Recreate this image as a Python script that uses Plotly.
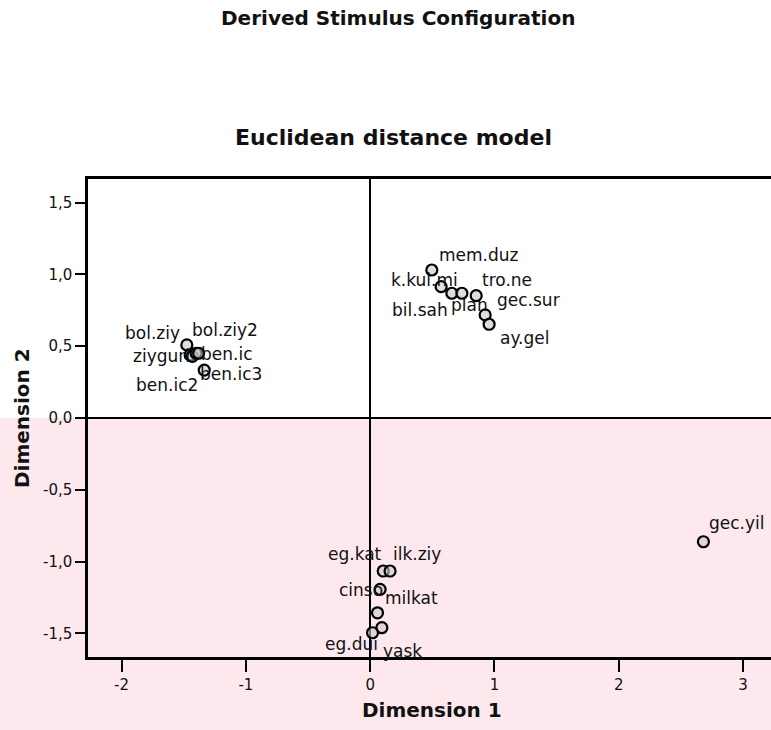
import plotly.graph_objects as go

# ---- data ----
stimulus = ["mem.duz", "k.kul.mi", "bil.sah", "plan", "tro.ne", "gec.sur", "ay.gel",
            "bol.ziy", "ziyguri", "ben.ic2", "bol.ziy2", "ben.ic", "ben.ic3",
            "eg.kat", "ilk.ziy", "cinso", "milkat", "yask", "eg.dui", "gec.yil"]
dim1 = [0.496, 0.571, 0.657, 0.738, 0.853, 0.925, 0.957,
        -1.475, -1.448, -1.43, -1.40, -1.38, -1.335,
        0.105, 0.16, 0.08, 0.059, 0.094, 0.019, 2.681]
dim2 = [1.031, 0.915, 0.869, 0.869, 0.852, 0.718, 0.653,
        0.509, 0.439, 0.43, 0.451, 0.451, 0.334,
        -1.066, -1.066, -1.194, -1.357, -1.461, -1.496, -0.862]

x_tickvals = [-2, -1, 0, 1, 2, 3]
x_ticktext = ["-2", "-1", "0", "1", "2", "3"]
y_tickvals = [1.5, 1.0, 0.5, 0.0, -0.5, -1.0, -1.5]
y_ticktext = ["1,5", "1,0", "0,5", "0,0", "-0,5", "-1,0", "-1,5"]

# label offsets in pixels (dx right, dy down) -- styling only
label_offsets = {
    "mem.duz": (47, -15), "k.kul.mi": (-17, -7), "bil.sah": (-32, 17), "plan": (8, 12),
    "tro.ne": (31, -16), "gec.sur": (43, -15), "ay.gel": (35, 14),
    "bol.ziy": (-34, -12), "ziyguri": (-29, 1), "ben.ic2": (-25, 29), "bol.ziy2": (29, -23),
    "ben.ic": (28, 1), "ben.ic3": (27, 4),
    "eg.kat": (-28, -17), "ilk.ziy": (27, -17), "cinso": (-19, 1), "milkat": (34, -15),
    "yask": (21, 23), "eg.dui": (-21, 11), "gec.yil": (34, -19),
}

FONT = "DejaVu Sans, Liberation Sans, Arial, sans-serif"
INK = "#111"

# figure is slightly wider than the window so the plot runs off the right edge
W, H = 790, 730
L, R, T, B = 88, 0, 179, 73
ph = H - T - B
pw = W - L - R
PX_PER_X = 124.3
x_lo = -2.27
x_hi = x_lo + pw / PX_PER_X

fig = go.Figure()
fig.add_trace(go.Scatter(
    x=dim1, y=dim2, mode="markers",
    marker=dict(symbol="circle", size=11, color="rgba(200,200,200,0.6)",
                line=dict(color="black", width=2.2)),
    hoverinfo="text", text=stimulus, showlegend=False,
))

annotations = []
for name, xv, yv in zip(stimulus, dim1, dim2):
    dx, dy = label_offsets[name]
    annotations.append(dict(
        x=xv, y=yv, xref="x", yref="y", text=name, showarrow=False,
        xanchor="center", yanchor="middle", xshift=dx, yshift=-dy,
        font=dict(family=FONT, size=17, color=INK),
    ))


def py_to_paper(py):
    return (H - B - py) / ph


def px_to_paper(px):
    return (px - L) / pw


annotations.append(dict(text="<b>Derived Stimulus Configuration</b>", x=px_to_paper(398),
                        y=py_to_paper(18), xref="paper", yref="paper", showarrow=False,
                        xanchor="center", yanchor="middle",
                        font=dict(family=FONT, size=20, color=INK)))
annotations.append(dict(text="<b>Euclidean distance model</b>", x=px_to_paper(393),
                        y=py_to_paper(137), xref="paper", yref="paper", showarrow=False,
                        xanchor="center", yanchor="middle",
                        font=dict(family=FONT, size=22, color=INK)))
annotations.append(dict(text="<b>Dimension 1</b>", x=px_to_paper(432), y=py_to_paper(710),
                        xref="paper", yref="paper", showarrow=False,
                        xanchor="center", yanchor="middle",
                        font=dict(family=FONT, size=20, color=INK)))
annotations.append(dict(text="<b>Dimension 2</b>", x=px_to_paper(22), y=py_to_paper(418),
                        xref="paper", yref="paper", showarrow=False, textangle=-90,
                        xanchor="center", yanchor="middle",
                        font=dict(family=FONT, size=20, color=INK)))

shapes = [
    dict(type="rect", xref="paper", yref="paper", x0=-L / pw, x1=1.0,
         y0=-B / ph, y1=0.5, fillcolor="rgb(253,233,237)", line=dict(width=0), layer="below"),
]

fig.update_layout(
    width=W, height=H,
    margin=dict(l=L, r=R, t=T, b=B),
    paper_bgcolor="white", plot_bgcolor="rgba(0,0,0,0)",
    annotations=annotations, shapes=shapes,
    font=dict(family=FONT, color=INK),
)
fig.update_xaxes(
    range=[x_lo, x_hi], tickvals=x_tickvals, ticktext=x_ticktext,
    showgrid=False, zeroline=True, zerolinecolor="black", zerolinewidth=2,
    showline=True, linecolor="black", linewidth=2.5, mirror=True,
    ticks="outside", ticklen=12, tickwidth=2, tickcolor="black",
    tickfont=dict(family=FONT, size=15, color=INK),
)
fig.update_yaxes(
    range=[-1.665, 1.665], tickvals=y_tickvals, ticktext=y_ticktext,
    showgrid=False, zeroline=True, zerolinecolor="black", zerolinewidth=2,
    showline=True, linecolor="black", linewidth=2.5, mirror=False,
    ticks="outside", ticklen=10, tickwidth=2, tickcolor="black",
    tickfont=dict(family=FONT, size=15, color=INK),
)

fig.write_html(
    "out.html",
    config={"displayModeBar": False},
    post_script="document.body.style.margin='0';document.body.style.overflow='hidden';"
                "document.documentElement.style.overflow='hidden';",
)
